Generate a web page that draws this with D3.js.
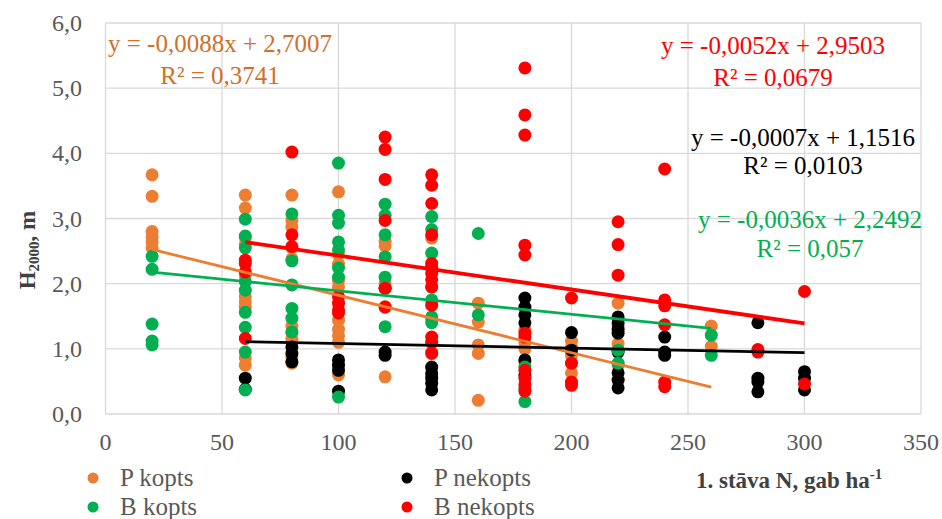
<!DOCTYPE html>
<html>
<head>
<meta charset="utf-8">
<script src="https://cdn.jsdelivr.net/npm/d3@7"></script>
<style>
  body { margin: 0; background: #fff; }
  svg { font-family: "Liberation Serif", "Times New Roman", serif; }
</style>
</head>
<body>
<svg id="chart" width="942" height="519"></svg>
<script>
// H2000 vs 1st-storey density, four groups
const pKopts = [
  [20, [3.67, 3.34, 2.80, 2.72, 2.64, 2.55]],
  [60, [3.36, 3.16, 2.70, 2.60, 2.13, 1.80, 1.72, 1.64, 0.86, 0.75]],
  [80, [3.36, 2.97, 2.87, 2.55, 2.38, 1.35, 1.25, 1.15, 0.88, 0.78]],
  [100, [3.41, 2.45, 2.30, 2.05, 1.95, 1.44, 1.30, 1.20, 1.10, 0.60]],
  [120, [2.65, 2.58, 2.00, 1.65, 0.57]],
  [140, [2.70, 2.25, 1.45, 1.10, 0.95, 0.70]],
  [160, [1.70, 1.41, 1.06, 0.93, 0.21]],
  [180, [1.30, 1.10, 1.00, 0.80]],
  [200, [1.12, 1.03, 0.90, 0.63]],
  [220, [1.70, 1.35, 1.08, 0.98, 0.75, 0.52]],
  [260, [1.35, 1.04]]
];
const pNekopts = [
  [60, [0.55, 0.38]],
  [80, [1.03, 0.93, 0.80]],
  [100, [0.83, 0.75, 0.67, 0.35]],
  [120, [1.93, 0.95, 0.90]],
  [140, [0.72, 0.62, 0.55, 0.47, 0.37]],
  [180, [1.78, 1.64, 1.52, 1.40, 0.83, 0.60]],
  [200, [1.25, 0.98]],
  [220, [1.49, 1.40, 1.30, 1.24, 0.95, 0.63, 0.52, 0.40]],
  [240, [1.18, 0.95, 0.90]],
  [280, [1.40, 0.55, 0.49, 0.34]],
  [300, [0.65, 0.55, 0.37]]
];
const bKopts = [
  [20, [2.42, 2.22, 1.38, 1.12, 1.06]],
  [60, [2.99, 2.73, 2.55, 2.03, 1.90, 1.56, 1.33, 0.95, 0.37]],
  [80, [3.07, 2.35, 1.98, 1.62, 1.47, 1.26]],
  [100, [3.85, 3.05, 2.93, 2.64, 2.52, 2.24, 2.10, 0.26]],
  [120, [3.22, 3.05, 2.75, 2.41, 2.10, 1.34]],
  [140, [3.03, 2.83, 2.47, 1.95, 1.75, 1.49, 1.40]],
  [160, [2.77, 1.52]],
  [180, [0.72, 0.40, 0.19]],
  [220, [0.98, 0.78]],
  [260, [1.21, 0.90]]
];
const bNekopts = [
  [60, [2.36, 2.31, 2.18, 1.16]],
  [80, [4.02, 2.75, 2.57]],
  [100, [1.80, 1.70, 1.60, 1.55]],
  [120, [4.25, 4.06, 3.60, 2.97, 1.93, 1.64]],
  [140, [3.67, 3.51, 3.23, 2.75, 2.31, 2.25, 2.16, 2.06, 1.95, 1.67, 1.18, 1.10, 0.93]],
  [180, [5.31, 4.59, 4.28, 2.59, 2.44, 1.24, 1.18, 0.67, 0.55, 0.45, 0.35]],
  [200, [1.78, 0.78, 0.49, 0.44]],
  [220, [2.95, 2.60, 2.13]],
  [240, [3.76, 1.75, 1.66, 1.37, 0.49, 0.42]],
  [280, [0.99, 0.95]],
  [300, [1.88, 0.46]]
];

const seriesNames = ["P kopts", "P nekopts", "B kopts", "B nekopts"];
const seriesColors = ["#ED7D31", "#000000", "#00B050", "#FF0000"];
const seriesData = [pKopts, pNekopts, bKopts, bNekopts];

// trendlines as printed on the chart
const slopes = [-0.0088, -0.0007, -0.0036, -0.0052];
const intercepts = [2.7007, 1.1516, 2.2492, 2.9503];
const r2 = ["0,3741", "0,0103", "0,057", "0,0679"];
const trendRange = [[20, 260], [60, 300], [20, 260], [60, 300]];

const xTicks = [0, 50, 100, 150, 200, 250, 300, 350];
const yTicks = [0, 1, 2, 3, 4, 5, 6];

const svg = d3.select("#chart");
const x = d3.scaleLinear().domain([0, 350]).range([105.5, 921]);
const y = d3.scaleLinear().domain([0, 6]).range([414, 23]);

// grid
svg.append("g").selectAll("line.v").data(xTicks).enter().append("line")
  .attr("x1", d => x(d)).attr("x2", d => x(d))
  .attr("y1", y(0)).attr("y2", y(6))
  .attr("stroke", "#D9D9D9").attr("stroke-width", 1.3);
svg.append("g").selectAll("line.h").data(yTicks).enter().append("line")
  .attr("x1", x(0)).attr("x2", x(350))
  .attr("y1", d => y(d)).attr("y2", d => y(d))
  .attr("stroke", "#D9D9D9").attr("stroke-width", 1.3);

// tick labels
const comma = d3.formatLocale({ decimal: ",", thousands: " ", grouping: [3], currency: ["", ""] });
const fy = comma.format(".1f");
svg.append("g").selectAll("text").data(yTicks).enter().append("text")
  .attr("x", 82).attr("y", d => y(d) + 8)
  .attr("text-anchor", "end").attr("font-size", 24).attr("fill", "#595959")
  .text(d => fy(d));
svg.append("g").selectAll("text").data(xTicks).enter().append("text")
  .attr("x", d => x(d)).attr("y", 450)
  .attr("text-anchor", "middle").attr("font-size", 24).attr("fill", "#595959")
  .text(d => d);

// points
seriesData.forEach((ser, i) => {
  const pts = ser.flatMap(([n, hs]) => hs.map(h => ({ n, h })));
  svg.append("g").selectAll("circle").data(pts).enter().append("circle")
    .attr("cx", d => x(d.n)).attr("cy", d => y(d.h)).attr("r", 6.5)
    .attr("fill", seriesColors[i]);
});

// trendlines
seriesData.forEach((ser, i) => {
  const [a, b] = trendRange[i];
  svg.append("line")
    .attr("x1", x(a)).attr("y1", y(intercepts[i] + slopes[i] * a))
    .attr("x2", x(b)).attr("y2", y(intercepts[i] + slopes[i] * b))
    .attr("stroke", seriesColors[i])
    .attr("stroke-width", i === 3 ? 3.8 : 2.8);
});

// equation labels
const eqColors = ["#D0702A", "#000000", "#00B050", "#FF0000"];
const eqPos = [[220, 52, 84], [803, 146, 174], [810, 228, 257], [773, 54, 86]];
const f4 = v => v.toFixed(4).replace(".", ",");
seriesData.forEach((ser, i) => {
  const g = svg.append("g").attr("fill", eqColors[i]).attr("font-size", 25)
    .attr("text-anchor", "middle");
  g.append("text").attr("x", eqPos[i][0]).attr("y", eqPos[i][1])
    .text(`y = ${f4(slopes[i])}x + ${f4(intercepts[i])}`);
  g.append("text").attr("x", eqPos[i][0]).attr("y", eqPos[i][2])
    .text(`R² = ${r2[i]}`);
});

// axis titles
const yt = svg.append("text").attr("transform", "translate(35,250) rotate(-90)")
  .attr("text-anchor", "middle").attr("font-size", 23).attr("font-weight", "bold")
  .attr("fill", "#404040");
yt.append("tspan").text("H");
yt.append("tspan").attr("font-size", 15).attr("dy", 4).text("2000");
yt.append("tspan").attr("dy", -4).text(", m");

const xt = svg.append("text").attr("x", 696).attr("y", 488)
  .attr("font-size", 23).attr("font-weight", "bold").attr("fill", "#404040");
xt.append("tspan").text("1. stāva N, gab ha");
xt.append("tspan").attr("font-size", 15).attr("dy", -9).text("-1");

// legend
const legPos = [[93, 478], [407, 478], [93, 507], [407, 507]];
seriesNames.forEach((name, i) => {
  const g = svg.append("g").attr("transform", `translate(${legPos[i][0]},${legPos[i][1]})`);
  g.append("circle").attr("r", 5.5).attr("fill", seriesColors[i]);
  g.append("text").attr("x", 27).attr("y", 8).attr("font-size", 25)
    .attr("fill", "#595959").text(name);
});
</script>
</body>
</html>
